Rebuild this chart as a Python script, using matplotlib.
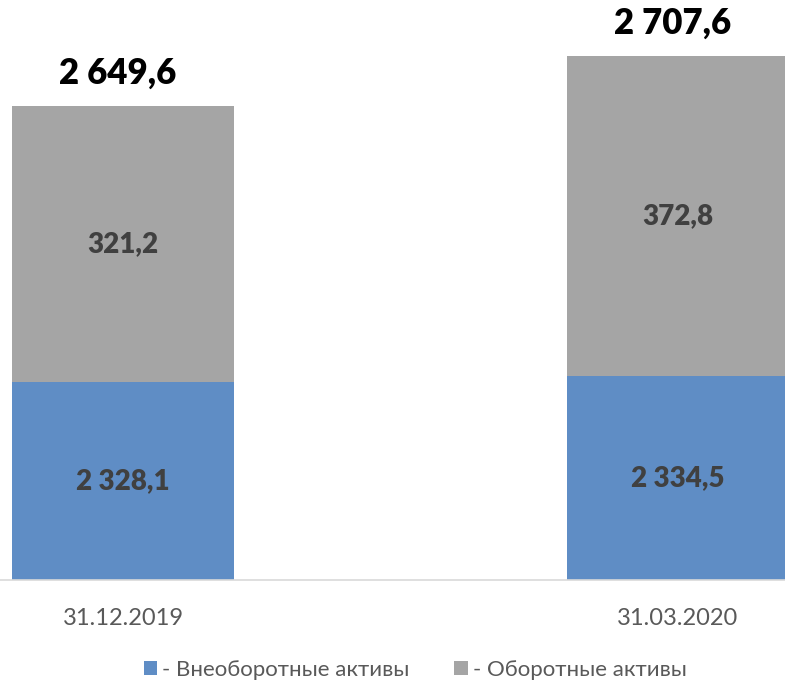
import matplotlib
matplotlib.use("Agg")
import matplotlib.pyplot as plt
from matplotlib.patches import Patch

# data
dates = ["31.12.2019", "31.03.2020"]
non_current = [2328.1, 2334.5]      # внеоборотные
current = [321.2, 372.8]            # оборотные
totals = ["2 649,6", "2 707,6"]
nc_labels = ["2 328,1", "2 334,5"]
c_labels = ["321,2", "372,8"]
legend_labels = ["- Внеоборотные активы", "- Оборотные активы"]

blue = "#5F8DC5"
gray = "#A5A5A5"

plt.rcParams['font.family'] = ['Lato', 'DejaVu Sans']

fig = plt.figure(figsize=(7.85, 6.82), dpi=100)
ax = fig.add_axes([0, 102 / 682, 1, 580 / 682])

xs = [123, 678]
w = 222
base = 2098

ax.bar(xs, [v - base for v in non_current], bottom=base, width=w, color=blue)
tops_nc = non_current
ax.bar(xs, current, bottom=tops_nc, width=w, color=gray)

for i in range(len(xs)):
    ax.text(xs[i], (base + non_current[i]) / 2, nc_labels[i], ha='center', va='center',
            fontsize=20, fontweight='heavy', color='#404040')
    ax.text(xs[i], non_current[i] + current[i] / 2, c_labels[i], ha='center', va='center',
            fontsize=20, fontweight='heavy', color='#404040')
    ax.annotate(totals[i], (xs[i] - 5, non_current[i] + current[i]), xytext=(0, 23),
                textcoords='offset points', ha='center', va='center',
                fontsize=25, fontweight='heavy', color='black')

ax.set_xlim(0, 785)
ax.set_ylim(base, base + 674)
for s in ['top', 'right', 'left']:
    ax.spines[s].set_visible(False)
ax.spines['bottom'].set_color('#D9D9D9')
ax.spines['bottom'].set_linewidth(1.2)
ax.set_yticks([])
ax.set_xticks(xs)
ax.set_xticklabels(dates, fontsize=17, color='#595959')
ax.tick_params(axis='x', length=0, pad=20)

handles = [Patch(facecolor=blue), Patch(facecolor=gray)]
fig.legend(handles, legend_labels, loc='center', bbox_to_anchor=(0.529, 12 / 682),
           ncol=2, frameon=False, fontsize=16, labelcolor='#595959',
           handlelength=0.6, handleheight=0.6, handletextpad=0.25, columnspacing=2.0)

fig.savefig("out.png", dpi=100)
